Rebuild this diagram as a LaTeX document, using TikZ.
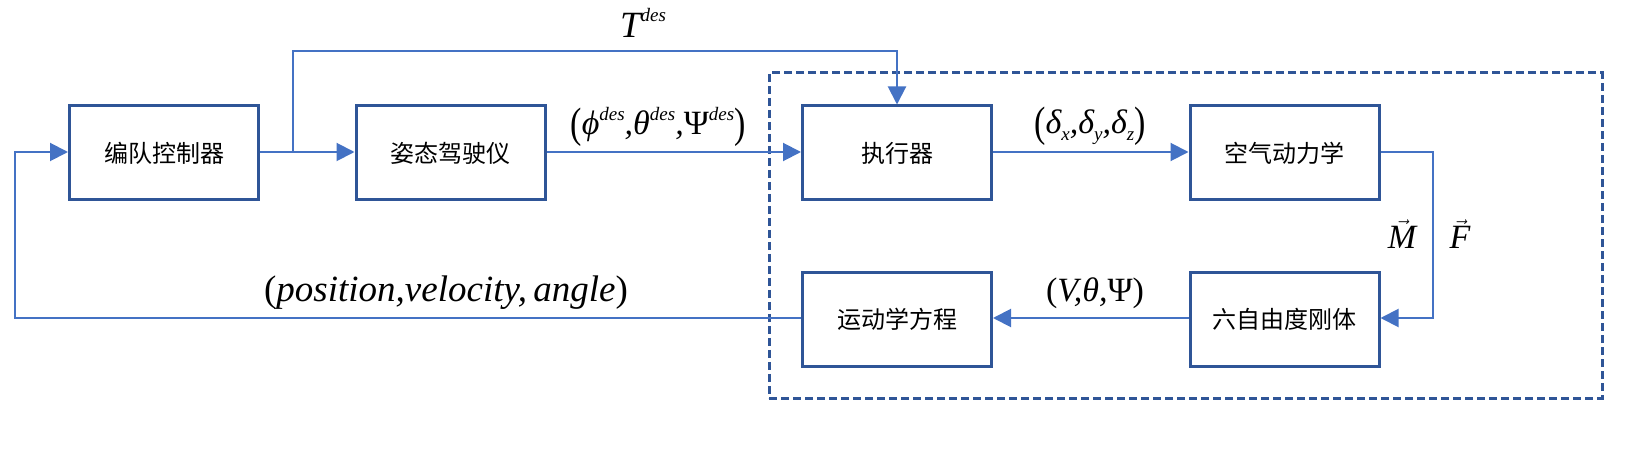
\documentclass[tikz,border=0pt]{standalone}
\usepackage{fontspec}
\usepackage{graphicx}
\setmainfont{Liberation Serif}
\newfontfamily\cjk{Noto Sans CJK SC}
\usetikzlibrary{arrows.meta}
\definecolor{boxblue}{HTML}{2F5597}
\definecolor{lineblue}{HTML}{4472C4}
\newcommand\supx[1]{\raisebox{.42em}{\fontsize{19}{19}\selectfont\itshape #1}}
\newcommand\subx[1]{\raisebox{-.22em}{\fontsize{19}{19}\selectfont\itshape #1}}
\newcommand\tallp[1]{\raisebox{-.08em}{\scalebox{1}[1.25]{\upshape #1}}}
\begin{document}
\begin{tikzpicture}[x=1pt,y=-1pt,
  blk/.style={draw=boxblue, line width=3pt, minimum width=189pt, minimum height=94pt,
    inner sep=0pt, font=\cjk\fontsize{24}{24}\selectfont, text=black},
  flow/.style={draw=lineblue, line width=2pt, -{Triangle[length=18pt,width=18pt]}},
  lbl/.style={inner sep=0pt, font=\fontsize{34}{36}\selectfont\itshape},
  group/.style={draw=boxblue, line width=3pt, dash pattern=on 8pt off 4pt,
    minimum width=833pt, minimum height=325pt, inner sep=0pt}
]
\useasboundingbox (0,0) rectangle (1628,449);
\node[group] (sys) at (1185.5,235.5) {};
% blocks
\node[blk] (form) at (164,153) {编队控制器};
\node[blk] (att)  at (450.5,153) {姿态驾驶仪};
\node[blk] (act)  at (897,153) {执行器};
\node[blk] (aero) at (1284.5,153) {空气动力学};
\node[blk] (kin)  at (897,319) {运动学方程};
\node[blk] (six)  at (1284.5,319) {六自由度刚体};
% helper points
\coordinate (br)   at (293,152);
\coordinate (tTop) at (293,51);
\coordinate (rt)   at (1433,318);
\coordinate (fbL)  at (15,318);
% connectors
\draw[flow] (form.east |- br) -- (att.west |- br);
\draw[flow] (br) -- (tTop) -| (act.north);
\draw[flow] (att.east |- br) -- (act.west |- br);
\draw[flow] (act.east |- br) -- (aero.west |- br);
\draw[flow] (aero.east |- br) -| (rt) -- (six.east |- rt);
\draw[flow] (six.west |- rt) -- (kin.east |- rt);
\draw[flow] (kin.west |- rt) -- (fbL) |- (form.west |- br);
% labels
\node[lbl, font=\fontsize{37}{38}\selectfont\itshape] (tdes) at (643,23) {T\supx{des}};
\node[lbl] (angdes) at (658,127) {\tallp{(}ϕ\supx{des},θ\supx{des},{\upshape Ψ}\supx{des}\tallp{)}};
\node[lbl] (delta) at (1090,126) {\tallp{(}δ\subx{x},δ\subx{y},δ\subx{z}\tallp{)}};
\node[lbl] (vtp) at (1095,293) {{\upshape (}V,θ,{\upshape Ψ}{\upshape )}};
\node[lbl, font=\fontsize{37}{38}\selectfont\itshape] (pva) at (446,293) {{\upshape (}position,velocity,\,angle{\upshape )}};
\node[lbl, anchor=base] (mvec) at (1402,249) {$\vec{\hbox{\itshape M}}$};
\node[lbl, anchor=base] (fvec) at (1460,249) {$\vec{\hbox{\itshape F}}$};
\end{tikzpicture}
\end{document}
